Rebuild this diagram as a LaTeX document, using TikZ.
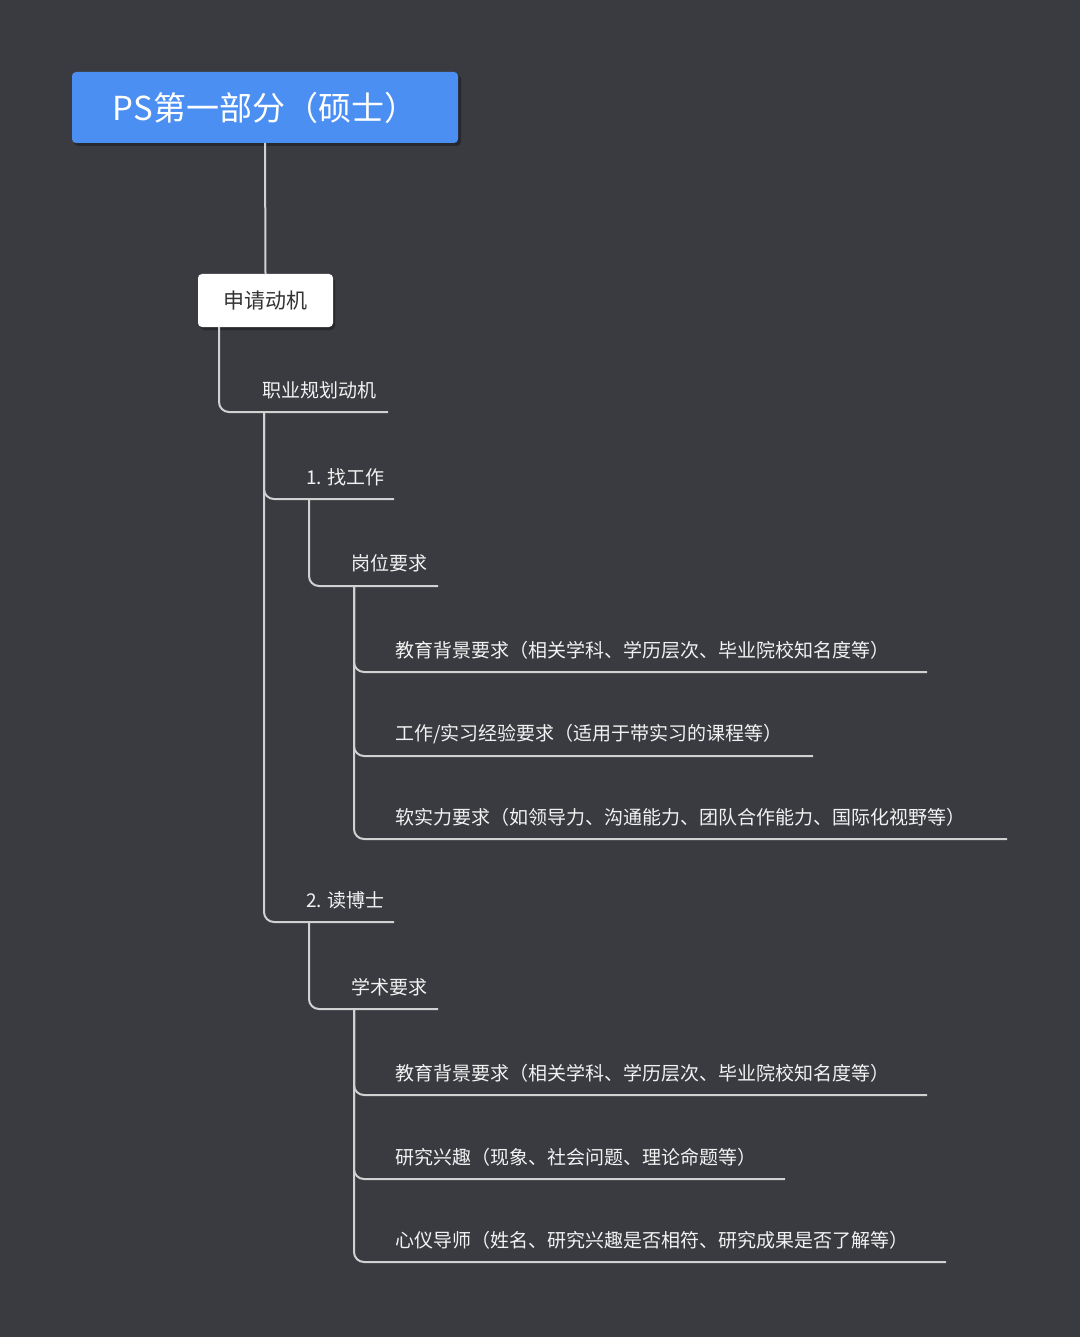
\documentclass[tikz,border=0pt]{standalone}
\usepackage{fontspec}
\setmainfont{Noto Sans CJK SC}
\begin{document}
\begin{tikzpicture}[x=1pt,y=-1pt,
 ln/.style={draw=white!82!black,line width=2pt,rounded corners=10pt},
 lbl/.style={anchor=west,text=white!95!black,font=\fontsize{19}{22}\selectfont,inner sep=0pt}]
\definecolor{bg}{HTML}{393B40}
\definecolor{blu}{HTML}{4B8FF2}
\fill[bg] (0,0) rectangle (1080,1337);
\useasboundingbox (0,0) rectangle (1080,1337);
\fill[black,opacity=0.3,rounded corners=4pt] (74,75) rectangle (461,146);
\node[fill=blu,rounded corners=4pt,minimum width=386pt,minimum height=71pt,text=white,font=\fontsize{33}{36}\selectfont,inner sep=0pt] (root) at (265,107.5) {PS第一部分（硕士）};
\fill[black,opacity=0.3,rounded corners=4pt] (200,277) rectangle (335,330);
\node[fill=white,rounded corners=4pt,minimum width=135pt,minimum height=53pt,text=black!80,font=\fontsize{21}{24}\selectfont,inner sep=0pt] (mot) at (265.5,300.5) {申请动机};
\draw[ln] (root.south) -- (mot.north);
\coordinate (s0) at (219,327);
\node[lbl] (a) at (262,390) {职业规划动机}; \coordinate (ae) at (388,412);
\draw[ln] (s0) |- (ae);
\coordinate (s1) at (264,412);
\node[lbl] (b1) at (306,477) {1. 找工作}; \coordinate (b1e) at (394,499);
\node[lbl] (b2) at (306,900) {2. 读博士}; \coordinate (b2e) at (394,922);
\draw[ln] (s1) |- (b1e); \draw[ln] (s1) |- (b2e);
\coordinate (s2) at (309,499);
\node[lbl] (c1) at (351,563) {岗位要求}; \coordinate (c1e) at (438,586);
\draw[ln] (s2) |- (c1e);
\coordinate (s3) at (309,922);
\node[lbl] (c2) at (351,987) {学术要求}; \coordinate (c2e) at (438,1009);
\draw[ln] (s3) |- (c2e);
\coordinate (s4) at (354,586);
\node[lbl] (d1) at (395,650) {教育背景要求（相关学科、学历层次、毕业院校知名度等）}; \coordinate (d1e) at (927,672);
\node[lbl] (d2) at (395,734) {工作/实习经验要求（适用于带实习的课程等）}; \coordinate (d2e) at (813,756);
\node[lbl] (d3) at (395,817) {软实力要求（如领导力、沟通能力、团队合作能力、国际化视野等）}; \coordinate (d3e) at (1007,839);
\draw[ln] (s4) |- (d1e); \draw[ln] (s4) |- (d2e); \draw[ln] (s4) |- (d3e);
\coordinate (s5) at (354,1009);
\node[lbl] (e1) at (395,1073) {教育背景要求（相关学科、学历层次、毕业院校知名度等）}; \coordinate (e1e) at (927,1095);
\node[lbl] (e2) at (395,1157) {研究兴趣（现象、社会问题、理论命题等）}; \coordinate (e2e) at (785,1179);
\node[lbl] (e3) at (395,1240) {心仪导师（姓名、研究兴趣是否相符、研究成果是否了解等）}; \coordinate (e3e) at (946,1262);
\draw[ln] (s5) |- (e1e); \draw[ln] (s5) |- (e2e); \draw[ln] (s5) |- (e3e);
\end{tikzpicture}
\end{document}
